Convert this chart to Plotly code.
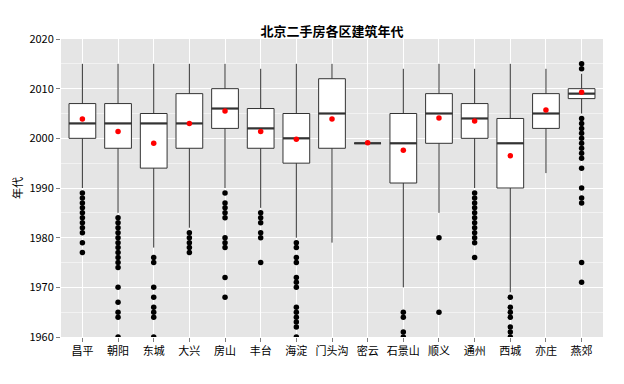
import plotly.graph_objects as go

categories = ["昌平", "朝阳", "东城", "大兴", "房山", "丰台", "海淀", "门头沟",
              "密云", "石景山", "顺义", "通州", "西城", "亦庄", "燕郊"]
lower_whisker = [1990, 1985, 1978, 1982, 1990, 1986, 1980, 1979, 1999, 1970, 1985, 1990, 1969, 1993, 2005]
q1 = [2000, 1998, 1994, 1998, 2002, 1998, 1995, 1998, 1999, 1991, 1999, 2000, 1990, 2002, 2008]
median = [2003, 2003, 2003, 2003, 2006, 2002, 2000, 2005, 1999, 1999, 2005, 2004, 1999, 2005, 2009]
q3 = [2007, 2007, 2005, 2009, 2010, 2006, 2005, 2012, 1999, 2005, 2009, 2007, 2004, 2009, 2010]
upper_whisker = [2015, 2015, 2015, 2015, 2015, 2014, 2015, 2015, 1999, 2014, 2015, 2014, 2015, 2014, 2013]
means = [2003.9, 2001.4, 1999.0, 2003.0, 2005.5, 2001.4, 1999.8, 2003.9, 1999.1,
         1997.6, 2004.1, 2003.5, 1996.5, 2005.7, 2009.3]
outliers = [
    [1989, 1988, 1987, 1986, 1985, 1984, 1983, 1982, 1981, 1979, 1977],
    [1984, 1983, 1982, 1981, 1980, 1979, 1978, 1977, 1976, 1975, 1974, 1970, 1967, 1965, 1964, 1960],
    [1976, 1975, 1970, 1968, 1966, 1965, 1964, 1960],
    [1981, 1980, 1979, 1978, 1977],
    [1989, 1987, 1986, 1985, 1984, 1980, 1979, 1978, 1972, 1968],
    [1985, 1984, 1983, 1981, 1980, 1975],
    [1979, 1978, 1976, 1975, 1972, 1971, 1970, 1966, 1965, 1964, 1963, 1962, 1960],
    [],
    [],
    [1965, 1964, 1961, 1960],
    [1980, 1965],
    [1989, 1988, 1987, 1986, 1985, 1984, 1983, 1982, 1981, 1980, 1979, 1976],
    [1968, 1966, 1965, 1964, 1962, 1961, 1960],
    [],
    [2015, 2014, 2004, 2003, 2002, 2001, 2000, 1999, 1998, 1997, 1996, 1994, 1990, 1988, 1987, 1975, 1971],
]
y_ticks = [1960, 1970, 1980, 1990, 2000, 2010, 2020]

FONT = "Noto Sans CJK SC"
pos = list(range(1, len(categories) + 1))
box_w = 0.75
LINE = "#333333"

fig = go.Figure()
fig.add_trace(go.Box(
    x=pos, q1=q1, median=median, q3=q3,
    lowerfence=lower_whisker, upperfence=upper_whisker,
    boxpoints=False, width=box_w, whiskerwidth=0,
    fillcolor="white", line=dict(color=LINE, width=1),
    showlegend=False, hoverinfo="skip",
))

# thick median lines (ggplot style)
mx, my = [], []
for p, m in zip(pos, median):
    mx += [p - box_w / 2, p + box_w / 2, None]
    my += [m, m, None]
fig.add_trace(go.Scatter(x=mx, y=my, mode="lines",
                         line=dict(color=LINE, width=2.2),
                         showlegend=False, hoverinfo="skip"))

ox, oy = [], []
for p, vals in zip(pos, outliers):
    ox += [p] * len(vals)
    oy += vals
fig.add_trace(go.Scatter(x=ox, y=oy, mode="markers",
                         marker=dict(color="black", size=5.5, symbol="circle"),
                         showlegend=False, hoverinfo="skip"))

fig.add_trace(go.Scatter(x=pos, y=means, mode="markers",
                         marker=dict(color="red", size=5.5, symbol="circle"),
                         showlegend=False, hoverinfo="skip"))

# page body has an 8px default margin; size the figure to fit the 624x384 window
W, H = 616, 376
fig.update_layout(
    width=W, height=H,
    margin=dict(l=53, r=21, t=31, b=47, autoexpand=False),
    paper_bgcolor="white", plot_bgcolor="#E5E5E5",
    font=dict(family=FONT, size=11, color="black"),
    title=dict(text="北京二手房各区建筑年代", x=0.5, xref="paper",
               y=1 - 23 / H, yref="container", yanchor="middle", xanchor="center",
               automargin=False,
               font=dict(family=FONT, size=13, color="black", weight="bold")),
)
fig.update_xaxes(
    range=[0.4, len(categories) + 0.6], tickmode="array", tickvals=pos, ticktext=categories,
    showgrid=True, gridcolor="white", gridwidth=1, zeroline=False, automargin=False,
    ticks="outside", ticklen=4, tickcolor="#7F7F7F", tickwidth=1,
    tickfont=dict(family=FONT, size=11, color="black"), showline=False,
)
fig.update_yaxes(
    range=[1960, 2020], tickmode="array", tickvals=y_ticks, automargin=False,
    showgrid=True, gridcolor="white", gridwidth=1, zeroline=False,
    minor=dict(dtick=5, tick0=1960, showgrid=True, gridcolor="#F2F2F2", gridwidth=0.6, ticks=""),
    ticks="outside", ticklen=4, tickcolor="#7F7F7F", tickwidth=1,
    tickfont=dict(family=FONT, size=11, color="black"),
    title=dict(text="年代", font=dict(family=FONT, size=11, color="black"), standoff=4),
    showline=False,
)

fig.write_html("out.html")
